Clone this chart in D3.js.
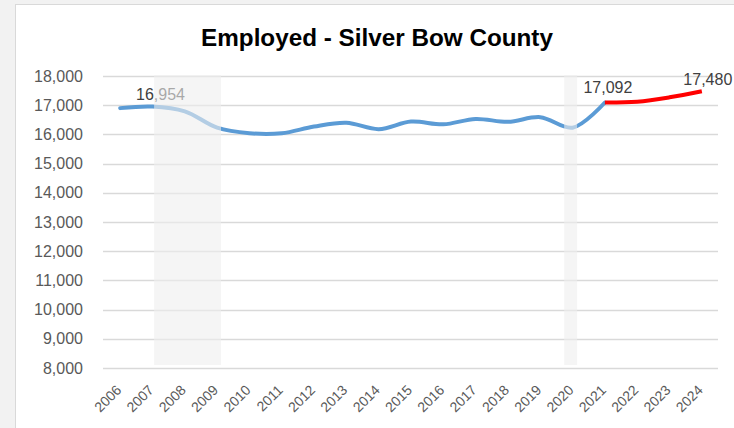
<!DOCTYPE html>
<html><head><meta charset="utf-8">
<script src="https://cdn.jsdelivr.net/npm/d3@7"></script>
<style>
html,body{margin:0;padding:0;background:#f2f2f2;}
svg{display:block;}
</style></head>
<body>
<svg id="chart" width="734" height="428"></svg>
<script>
// ---- data ----
const years = ["2006","2007","2008","2009","2010","2011","2012","2013","2014","2015","2016","2017","2018","2019","2020","2021","2022","2023","2024"];
const employed = [16900,16954,16790,16230,16040,16040,16270,16400,16180,16440,16345,16530,16430,16590,16230,17092,null,null,null];
const projected = [null,null,null,null,null,null,null,null,null,null,null,null,null,null,null,17092,17120,17270,17480];
const yTicks = [8000,9000,10000,11000,12000,13000,14000,15000,16000,17000,18000];
const shadedSpans = [[2007.05, 2009.12], [2019.74, 2020.14]];
const labelled = [{year:"2007", value:16954, dx:8, dy:-7}, {year:"2021", value:17092, dx:3, dy:-10}, {year:"2024", value:17480, dx:6, dy:-6}];
const title = "Employed - Silver Bow County";

// ---- layout ----
const W = 734, H = 428;
const plot = {left:104, right:718, top:76, bottom:368};
const svg = d3.select("#chart");

svg.append("rect").attr("x",15.5).attr("y",4.5).attr("width",W).attr("height",H)
  .attr("fill","#fff").attr("stroke","#d9d9d9");

const x = d3.scalePoint().domain(years).range([plot.left, plot.right]).padding(0.5);
const xLin = d3.scaleLinear().domain([+years[0], +years[years.length-1]]).range([x(years[0]), x(years[years.length-1])]);
const y = d3.scaleLinear().domain([8000,18000]).range([plot.bottom, plot.top]);

// gridlines
svg.append("g").selectAll("line").data(yTicks).join("line")
  .attr("x1",plot.left-1).attr("x2",plot.right)
  .attr("y1",d=>Math.round(y(d))+0.5).attr("y2",d=>Math.round(y(d))+0.5)
  .attr("stroke","#d9d9d9").attr("stroke-width",1.3);

// y axis labels
const yAxis = d3.axisLeft(y).tickValues(yTicks).tickFormat(d3.format(",")).tickSize(0).tickPadding(0);
const ya = svg.append("g").attr("transform","translate(83,0)").call(yAxis);
ya.select(".domain").remove();
ya.selectAll("text").attr("fill","#595959").style("font-family","'Liberation Sans', Arial, sans-serif").style("font-size","16px");

// x axis labels
const xAxis = d3.axisBottom(x).tickSize(0).tickPadding(0);
const xa = svg.append("g").attr("transform","translate(0,0)").call(xAxis);
xa.select(".domain").remove();
xa.selectAll(".tick").attr("transform", d => `translate(${x(d)+2},391)`);
xa.selectAll("text").attr("fill","#595959").attr("dy",null).attr("y",0).attr("x",0)
  .attr("text-anchor","end").attr("transform","rotate(-45)")
  .style("font-family","'Liberation Sans', Arial, sans-serif").style("font-size","14px");

// lines
const line = d3.line().defined(d=>d.v!=null).x(d=>x(d.k)).y(d=>y(d.v)).curve(d3.curveCatmullRom.alpha(0.5));
svg.append("path").datum(years.map((k,i)=>({k, v:employed[i]})))
  .attr("d",line).attr("fill","none").attr("stroke","#5b9bd5").attr("stroke-width",4).attr("stroke-linecap","round").attr("stroke-linejoin","round");
svg.append("path").datum(years.map((k,i)=>({k, v:projected[i]})))
  .attr("d",line).attr("fill","none").attr("stroke","#ff0000").attr("stroke-width",4).attr("stroke-linejoin","round");

// data labels
svg.append("g").selectAll("text").data(labelled).join("text")
  .attr("x",d=>x(d.year)+d.dx).attr("y",d=>y(d.value)+d.dy)
  .attr("text-anchor","middle").attr("fill","#404040")
  .style("font-family","'Liberation Sans', Arial, sans-serif").style("font-size","16px")
  .text(d=>d3.format(",")(d.value));

// shaded spans (semi-transparent overlay)
svg.append("g").selectAll("rect").data(shadedSpans).join("rect")
  .attr("x",d=>xLin(d[0])).attr("width",d=>xLin(d[1])-xLin(d[0]))
  .attr("y",plot.top-1).attr("height",plot.bottom-plot.top-2)
  .attr("fill","rgb(238,238,238)").attr("fill-opacity",0.6);

// title
const t = svg.append("text").attr("x",377).attr("y",46).attr("text-anchor","middle")
  .attr("fill","#000").style("font-family","'Liberation Sans', Arial, sans-serif")
  .style("font-weight","bold").style("font-size","22px").text(title);
const tw = t.node().getComputedTextLength();
t.style("font-size", (22*352/tw).toFixed(2)+"px");
</script>
</body></html>
